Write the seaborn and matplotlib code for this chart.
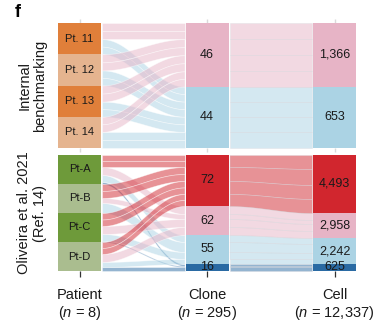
import numpy as np
import matplotlib
matplotlib.use("Agg")
import matplotlib.pyplot as plt
import seaborn as sns

# ---------------- data ----------------
column_names = ["Patient", "Clone", "Cell"]
column_n = ["8", "295", "12,337"]

top_title = "Internal\nbenchmarking"
top_patients = ["Pt. 11", "Pt. 12", "Pt. 13", "Pt. 14"]
top_clone_counts = [46, 44]
top_cell_counts = [1366, 653]
# ribbon widths patient -> clone group (rows: patients, cols: groups)
top_clone_flow = [[16, 15], [16, 15], [16, 15], [15, 16]]
# ribbon widths at the cell column
top_cell_flow = [[16, 15], [16, 15], [16, 15], [15, 16]]

bottom_title = "Oliveira et al. 2021\n(Ref. 14)"
bottom_patients = ["Pt-A", "Pt-B", "Pt-C", "Pt-D"]
bottom_clone_counts = [72, 62, 55, 16]
bottom_cell_counts = [4493, 2958, 2242, 625]
bottom_clone_flow = [[12, 8, 7, 2], [14, 5, 10, 0], [13, 8, 7, 1], [12, 8, 5, 4]]
bottom_cell_flow = [[14, 7, 6, 2], [16, 4, 9, 0], [14, 7, 6, 1], [14, 7, 5, 4]]

# ---------------- style ----------------
sns.set_theme(style="white")
plt.rcParams['font.family'] = ['Liberation Sans', 'DejaVu Sans']
plt.rcParams['mathtext.fontset'] = 'custom'
plt.rcParams['mathtext.it'] = 'Liberation Sans:italic'
plt.rcParams['mathtext.rm'] = 'Liberation Sans'
TXT = "#1a1a1a"

top_patient_colors = ["#E07F3A", "#E5B48F", "#E07F3A", "#E5B48F"]
bottom_patient_colors = ["#6E9A3A", "#AABD8F", "#6E9A3A", "#AABD8F"]
top_group_colors = ["#E7B4C6", "#ABD3E4"]
bottom_group_colors = ["#D1262E", "#E7B4C6", "#ABD3E4", "#2A6AA3"]

W = 21.5 / 127.5     # half width of the node columns
GAP = 1.0 / 127.5


def ribbon(ax, x0, x1, l0, l1, r0, r1, color, strands=1, alpha=0.5, z=1,
           edge=(1, 1, 1, 0.8)):
    t = np.linspace(0, 1, 80)
    s = (1 - np.cos(np.pi * t)) / 2
    xs = x0 + (x1 - x0) * t
    k = strands
    for i in range(k):
        a0 = l0 + (l1 - l0) * i / k
        a1 = l0 + (l1 - l0) * (i + 1) / k
        b0 = r0 + (r1 - r0) * i / k
        b1 = r0 + (r1 - r0) * (i + 1) / k
        top = a0 + (b0 - a0) * s
        bot = a1 + (b1 - a1) * s
        ax.fill_between(xs, top, bot, facecolor=color, alpha=alpha,
                        edgecolor=edge, linewidth=0.5, zorder=z)


def panel(ax, patients, pcolors, gcolors, clone_counts, cell_counts,
          clone_flow, cell_flow):
    cf = np.array(clone_flow, dtype=float)
    rf = np.array(cell_flow, dtype=float)
    npat, ngrp = cf.shape
    total = cf.sum()
    pat_h = cf.sum(axis=1)
    pat_start = np.concatenate([[0], np.cumsum(pat_h)[:-1]])
    grp_h = cf.sum(axis=0)
    grp_start = np.concatenate([[0], np.cumsum(grp_h)[:-1]])
    cell_h = rf.sum(axis=0)
    cell_start = np.concatenate([[0], np.cumsum(cell_h)[:-1]])

    left_pos = {}
    for p in range(npat):
        y = pat_start[p]
        for g in range(ngrp):
            left_pos[(p, g)] = (y, y + cf[p, g])
            y += cf[p, g]
    mid_pos, right_pos = {}, {}
    for g in range(ngrp):
        y = grp_start[g]
        y2 = cell_start[g]
        for p in range(npat):
            mid_pos[(p, g)] = (y, y + cf[p, g])
            right_pos[(p, g)] = (y2, y2 + rf[p, g])
            y += cf[p, g]
            y2 += rf[p, g]

    for g in list(range(ngrp))[::-1]:
        for p in range(npat):
            if cf[p, g] <= 0:
                continue
            l = left_pos[(p, g)]
            m = mid_pos[(p, g)]
            r = right_pos[(p, g)]
            n_str = max(1, int(round((l[1] - l[0]) / 7.0)))
            ribbon(ax, 0 + W + GAP, 1 - W - GAP, l[0], l[1], m[0], m[1],
                   gcolors[g], strands=n_str, z=1)
            ribbon(ax, 1 + W + GAP, 2 - W - GAP, m[0], m[1], r[0], r[1],
                   gcolors[g], strands=1, z=1, edge=(0.86, 0.86, 0.88, 0.7))

    ax.hlines([-0.6, total + 0.6], -W, 2 + W, color="#e4e4e4", lw=1.2, zorder=1.5)

    ax.bar([0] * npat, pat_h, bottom=pat_start, width=2 * W, color=pcolors,
           linewidth=0, zorder=2)
    ax.bar([1] * ngrp, grp_h, bottom=grp_start, width=2 * W, color=gcolors,
           linewidth=0, zorder=2)
    ax.bar([2] * ngrp, cell_h, bottom=cell_start, width=2 * W, color=gcolors,
           linewidth=0, zorder=2)

    for p in range(npat):
        ax.text(0, pat_start[p] + pat_h[p] / 2, patients[p], ha="center",
                va="center", fontsize=8, color=TXT, zorder=3)
    for g in range(ngrp):
        ax.text(1, grp_start[g] + grp_h[g] / 2, f"{clone_counts[g]:,}",
                ha="center", va="center", fontsize=9, color=TXT, zorder=3)
        ax.text(2, cell_start[g] + cell_h[g] / 2, f"{cell_counts[g]:,}",
                ha="center", va="center", fontsize=9, color=TXT, zorder=3)

    ax.set_xlim(-79.5 / 127.5, (374 - 79.5) / 127.5)
    ax.set_ylim(total, 0)
    ax.set_yticks([])
    for sp in ax.spines.values():
        sp.set_visible(False)
    return total


fig = plt.figure(figsize=(3.74, 3.21), dpi=100)
H = 321.0
ax_top = fig.add_axes([0, 1 - 148 / H, 1, 125 / H])
ax_bot = fig.add_axes([0, 1 - 271 / H, 1, 116 / H])
for a in (ax_top, ax_bot):
    a.patch.set_alpha(0)

panel(ax_top, top_patients, top_patient_colors, top_group_colors,
      top_clone_counts, top_cell_counts, top_clone_flow, top_cell_flow)
panel(ax_bot, bottom_patients, bottom_patient_colors, bottom_group_colors,
      bottom_clone_counts, bottom_cell_counts, bottom_clone_flow, bottom_cell_flow)

ax_top.set_xticks([0, 1, 2])
ax_top.tick_params(axis="x", which="both", top=True, bottom=True,
                   labelbottom=False, color="#dadada", length=3, width=1,
                   direction="out")
ax_bot.set_xticks([0, 1, 2])
ax_bot.set_xticklabels([f"{c}\n($n$ = {n})" for c, n in zip(column_names, column_n)],
                       fontsize=10.5, color=TXT, linespacing=1.15)
ax_bot.tick_params(axis="x", bottom=True, top=False, color="#333333",
                   length=4, width=0.9, pad=8, direction="out")

fig.text(32 / 374, 1 - 85.5 / H, top_title, rotation=90, ha="center",
         va="center", fontsize=10.5, color=TXT, linespacing=1.15,
         multialignment="center")
fig.text(32 / 374, 1 - 213 / H, bottom_title, rotation=90, ha="center",
         va="center", fontsize=10.5, color=TXT, linespacing=1.15,
         multialignment="center")
fig.text(15 / 374, 1 - 4 / H, "f", fontsize=13, fontweight="bold",
         ha="left", va="top", color="black")

fig.savefig("out.png", dpi=100)
